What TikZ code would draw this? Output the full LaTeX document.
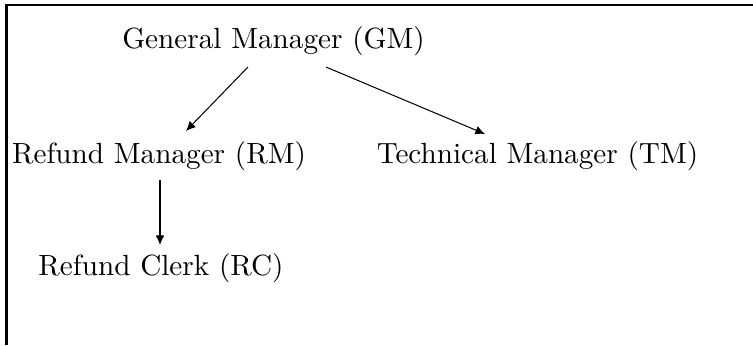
\documentclass[tikz,border=0pt]{standalone}
\usetikzlibrary{calc,arrows.meta}
\begin{document}
\begin{tikzpicture}[x=0.3424pt,y=-0.3424pt,
  role/.style={inner sep=0pt,anchor=base},
  link/.style={-{Latex[length=3.3pt,width=3pt]},line width=0.35pt},
  frameline/.style={line width=0.8pt}]
\useasboundingbox (0,0) rectangle (753,345);
\coordinate (tl) at (6.5,5);
\coordinate (tr) at (753,5);
\coordinate (bl) at (6.5,345);
\draw[frameline] (tr) -- (tl) -- (bl);
\node[role] (gm) at (273.5,48) {General Manager (GM)};
\node[role] (rm) at (159,163) {Refund Manager (RM)};
\node[role] (tm) at (537.5,163) {Technical Manager (TM)};
\node[role] (rc) at (161,275) {Refund Clerk (RC)};
\draw[link] ($(gm.base)+(-25.5,19)$) -- ($(rm.base)+(27,-32)$);
\draw[link] ($(gm.base)+(52.5,19)$) -- ($(tm.base)+(-52.5,-29)$);
\draw[link] ($(rm.base)+(1,17)$) -- ($(rc.base)+(-1,-30)$);
\end{tikzpicture}
\end{document}
